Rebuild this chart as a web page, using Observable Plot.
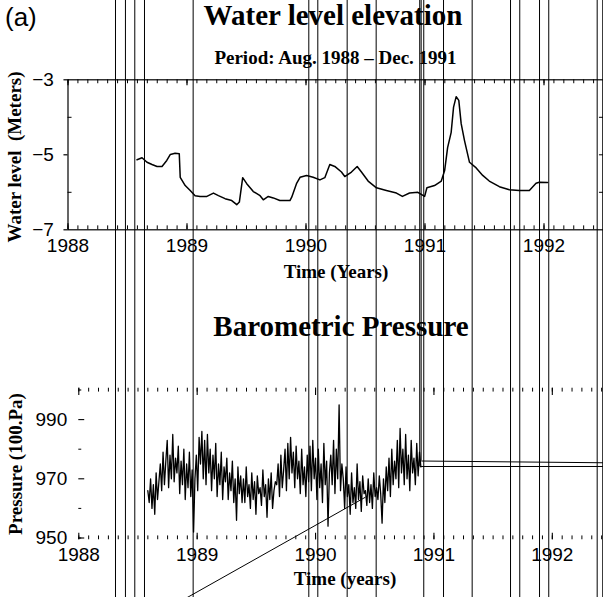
<!DOCTYPE html>
<html><head><meta charset="utf-8">
<script src="https://cdn.jsdelivr.net/npm/d3@7"></script>
<script src="https://cdn.jsdelivr.net/npm/@observablehq/plot@0.6"></script>
<style>
html,body{margin:0;padding:0;background:#fff;overflow:hidden;}
#fig{position:relative;width:603px;height:597px;overflow:hidden;background:#fff;}
#fig svg{position:absolute;left:0;top:0;}
.t{position:absolute;white-space:pre;line-height:1;color:#000;}
.serif{font-family:"Liberation Serif","Times New Roman",serif;font-weight:bold;}
.sans{font-family:"Liberation Sans",Arial,sans-serif;}
.c{transform:translateX(-50%);}
.rot{transform:translate(-50%,-50%) rotate(-90deg);}
</style></head><body><div id="fig"></div>
<script>
// ---- data ----
const years = [1988, 1989, 1990, 1991, 1992];
const levelTicks = [-3, -5, -7];
const levelMinor = [-4, -6];
const levelRight = [-4, -5, -6];
const pressureTicks = [950, 970, 990];
const pressureMinor = [960, 980];

const levelTime = [1988.58,1988.622,1988.664,1988.706,1988.748,1988.79,1988.83,1988.86,1988.90,1988.935,1988.943,1988.985,1989.027,1989.068,1989.11,1989.167,1989.222,1989.264,1989.32,1989.376,1989.418,1989.44,1989.468,1989.502,1989.557,1989.614,1989.641,1989.683,1989.725,1989.78,1989.865,1989.88,1989.92,1989.95,1990.005,1990.06,1990.117,1990.158,1990.20,1990.242,1990.298,1990.326,1990.382,1990.43,1990.466,1990.522,1990.592,1990.675,1990.76,1990.81,1990.87,1990.94,1990.997,1991.016,1991.08,1991.137,1991.165,1991.19,1991.22,1991.24,1991.262,1991.284,1991.304,1991.332,1991.374,1991.43,1991.485,1991.54,1991.625,1991.709,1991.793,1991.877,1991.933,1991.96,1992.03];
const levelValue = [-5.13,-5.08,-5.20,-5.26,-5.31,-5.31,-5.15,-4.99,-4.96,-4.97,-5.60,-5.82,-5.95,-6.09,-6.11,-6.11,-6.02,-6.09,-6.17,-6.22,-6.33,-6.26,-5.61,-5.77,-5.98,-6.09,-6.20,-6.11,-6.15,-6.22,-6.22,-6.13,-5.77,-5.60,-5.55,-5.60,-5.67,-5.61,-5.26,-5.31,-5.46,-5.58,-5.46,-5.31,-5.46,-5.70,-5.88,-5.95,-6.02,-6.11,-6.02,-6.0,-6.11,-5.88,-5.82,-5.70,-5.42,-4.81,-4.40,-3.73,-3.45,-3.55,-4.17,-4.62,-5.20,-5.35,-5.55,-5.70,-5.85,-5.93,-5.95,-5.95,-5.76,-5.73,-5.74];

const pressureStart = 1988.583;
const pressureStep = 0.01171;
const pressureValue = [
966,962,970,960,968,958,972,963,969,
975,966,979,968,976,983,967,978,970,985,969,977,
972,981,965,976,968,980,963,975,967,979,964,973,
952,970,978,966,984,975,986,970,983,968,985,972,
980,966,978,970,982,964,975,968,979,963,974,969,
977,963,972,966,976,962,970,956,974,965,971,962,
970,962,974,964,968,960,972,963,969,958,971,965,967,961,973,964,968,957,970,963,972,960,966,969,
968,975,964,978,967,973,980,966,982,970,984,972,
979,967,981,970,976,965,980,968,974,964,978,969,
981,966,983,970,977,963,980,967,975,962,982,968,976,954,972,
978,968,983,965,980,970,995,966,975,
970,960,974,964,968,958,972,962,967,960,975,963,969,959,971,965,966,961,970,962,968,960,972,964,967,963,971,
965,955,970,962,974,966,977,964,980,968,976,970,983,967,987,
972,980,968,985,970,978,966,983,972,977,968,982,971,979,974];

// vertical guide lines crossing the whole figure (in the lower panel's time units)
const guideTimes = [1988.310,1988.394,1988.473,1988.555,1988.966,1989.943,1990.019,1990.267,1990.512,1990.914,1991.081,1991.323,1991.647,1991.725,1991.892,1991.970,1992.379,1992.426];
const guideShortTime = [1990.880, 1990.892];
const guideShortEnd = [974.16, 976.01];
const segT1 = [1990.892, 1990.880, 1988.901];
const segP1 = [976.01, 974.16, 929.56];
const segT2 = [1992.45, 1992.45, 1990.421];
const segP2 = [975.41, 974.16, 963.78];

// ---- build ----
const SANS = "Liberation Sans, Arial, sans-serif";
const months = d3.range(0, 55).map(k => 1988 + k / 12);
const levelData = levelTime.map((t, i) => ({t, v: levelValue[i]}));
const pressureData = pressureValue.map((p, i) => ({t: pressureStart + i * pressureStep, p}));
const shortData = guideShortTime.map((t, i) => ({t, p: guideShortEnd[i]}));
const segData = segT1.map((t, i) => ({t1: t, p1: segP1[i], t2: segT2[i], p2: segP2[i]}));

const fig = document.getElementById("fig");

const topPlot = Plot.plot({
  width: 603, height: 300,
  marginLeft: 67.5, marginRight: 0, marginTop: 79.3, marginBottom: 70.7,
  x: {domain: [1988, 1992.5], axis: null},
  y: {domain: [-7, -3], axis: null},
  style: {background: "white", overflow: "visible"},
  marks: [
    Plot.frame({stroke: "#000", strokeWidth: 1.2}),
    Plot.ruleX(months, {x: d => d, y1: -3, y2: -3.105, strokeWidth: 1}),
    Plot.ruleX(months, {x: d => d, y1: -7, y2: -6.895, strokeWidth: 1}),
    Plot.ruleX(years, {x: d => d, y1: -3, y2: -3.16, strokeWidth: 1.2}),
    Plot.ruleX(years, {x: d => d, y1: -7, y2: -6.84, strokeWidth: 1.2}),
    Plot.ruleY(levelTicks, {y: d => d, x1: 1987.966, x2: 1988, strokeWidth: 1.2}),
    Plot.ruleY(levelMinor, {y: d => d, x1: 1988, x2: 1988.034, strokeWidth: 1}),
    Plot.ruleY(levelRight, {y: d => d, x1: 1992.466, x2: 1992.5, strokeWidth: 1}),
    Plot.line(levelData, {x: "t", y: "v", stroke: "#000", strokeWidth: 1.5}),
    Plot.text(years, {x: d => d, y: -7, dy: 16.4, text: d => String(d), fontSize: 19, fontFamily: SANS}),
    Plot.text(levelTicks, {x: 1988, y: d => d, dx: -14.2, textAnchor: "end", text: d => "\u2212" + Math.abs(d), fontSize: 19, fontFamily: SANS})
  ]
});
fig.appendChild(topPlot);

function addText(txt, cls, size, left, top) {
  const d = document.createElement("div");
  d.className = "t " + cls;
  d.style.fontSize = size + "px";
  d.style.left = left + "px";
  d.style.top = top + "px";
  d.textContent = txt;
  fig.appendChild(d);
}
addText("(a)", "sans", 26, 5, 3.5);
addText("Water level elevation", "serif c", 29, 333, 0.7);
addText("Period: Aug. 1988 \u2013 Dec. 1991", "serif c", 19, 335.5, 48);
addText("Time (Years)", "serif c", 19, 336, 262);
addText("Barometric Pressure", "serif c", 29, 341, 311.7);
addText("Time (years)", "serif c", 19, 345, 569);
addText("Water level  (Meters)", "serif rot", 19, 13.5, 157);
addText("Pressure (100.Pa)", "serif rot", 19, 15, 463.5);

const bottomPlot = Plot.plot({
  width: 611, height: 597,
  marginLeft: 78.3, marginRight: 0, marginTop: 389.5, marginBottom: 59.5,
  x: {domain: [1988, 1992.5], axis: null},
  y: {domain: [950, 1000], axis: null},
  style: {background: "transparent", maxWidth: "none", overflow: "hidden"},
  marks: [
    Plot.ruleX(months, {x: d => d, y1: 1000.6, y2: 999.3, strokeWidth: 1}),
    Plot.ruleX(months, {x: d => d, y1: 949.4, y2: 950.7, strokeWidth: 1}),
    Plot.ruleX(years, {x: d => d, y1: 1000.6, y2: 998.1, strokeWidth: 1.1}),
    Plot.ruleX(years, {x: d => d, y1: 949.4, y2: 951.6, strokeWidth: 1.1}),
    Plot.ruleY([950, 1000], {y: d => d, x1: 1988, x2: 1988.025, strokeWidth: 1.1}),
    Plot.ruleY(pressureTicks, {y: d => d, x1: 1988, x2: 1988.05, strokeWidth: 1.1}),
    Plot.ruleY(pressureMinor, {y: d => d, x1: 1988, x2: 1988.025, strokeWidth: 1}),
    Plot.line(pressureData, {x: "t", y: "p", stroke: "#000", strokeWidth: 1.3}),
    Plot.text(years, {x: d => d, y: 950, dy: 17, text: d => String(d), fontSize: 19, fontFamily: SANS}),
    Plot.text(pressureTicks, {x: 1988, y: d => d, dx: -11.6, textAnchor: "end", text: d => String(d), fontSize: 19, fontFamily: SANS}),
    // guide lines crossing the figure
    Plot.ruleX(guideTimes, {x: d => d, y1: 1140, y2: 920, stroke: "#000", strokeWidth: 1}),
    Plot.ruleX(shortData, {x: "t", y1: 1140, y2: "p", stroke: "#000", strokeWidth: 1}),
    Plot.link(segData, {x1: "t1", y1: "p1", x2: "t2", y2: "p2", stroke: "#000", strokeWidth: 1})
  ]
});
fig.appendChild(bottomPlot);
</script></body></html>
